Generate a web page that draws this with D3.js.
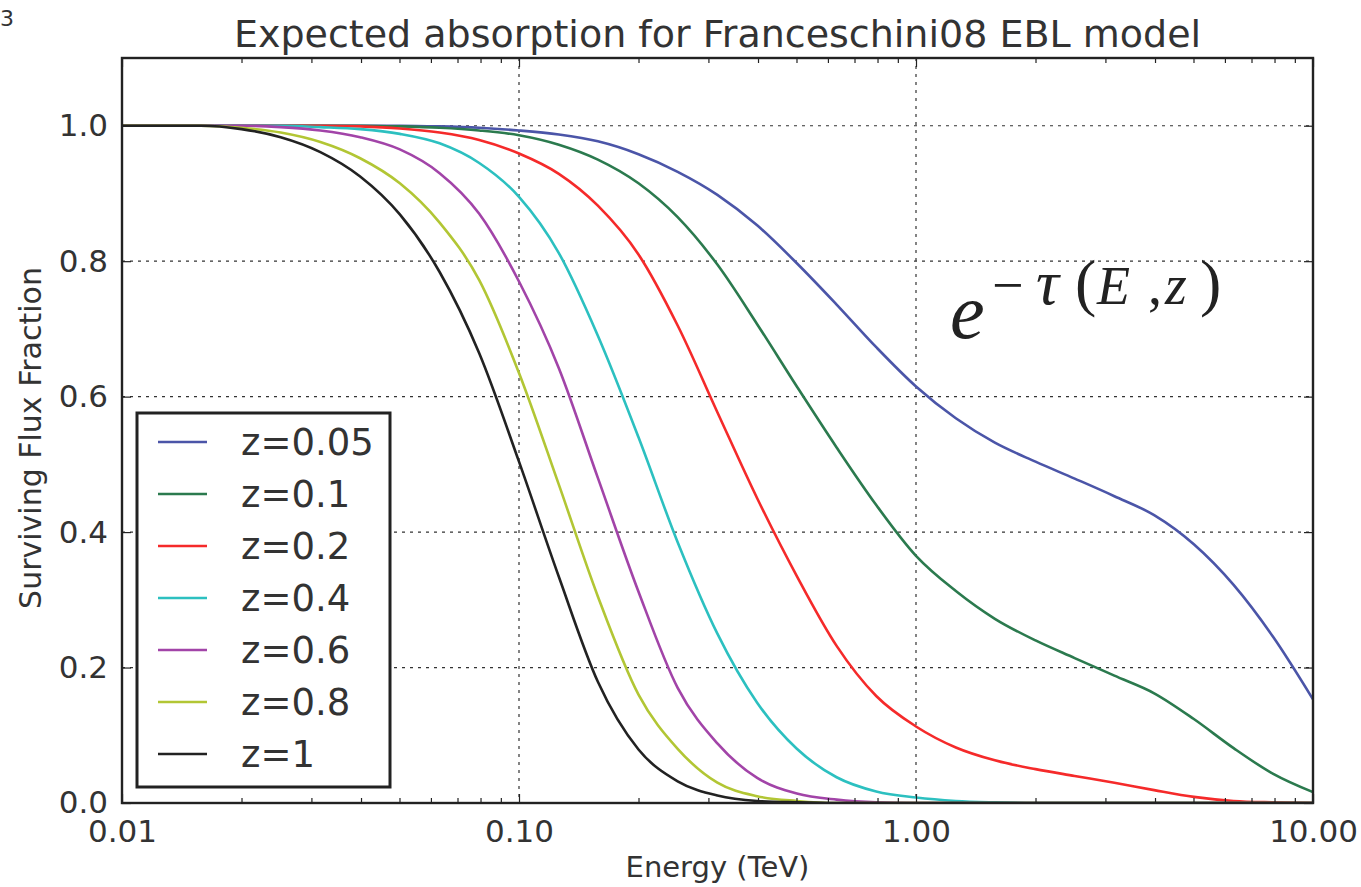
<!DOCTYPE html>
<html>
<head>
<meta charset="utf-8">
<script src="https://cdn.jsdelivr.net/npm/d3@7/dist/d3.min.js"></script>
<style>
  html, body { margin: 0; padding: 0; background: #ffffff; }
  svg { display: block; }
</style>
</head>
<body>
<svg id="chart" width="1361" height="887"></svg>
<script>
// ---- Data ----
const energies = [0.01, 0.0126, 0.0158, 0.02, 0.0251, 0.0316, 0.0398, 0.0501, 0.0631, 0.0794,
  0.1, 0.126, 0.158, 0.2, 0.251, 0.316, 0.398, 0.501, 0.631, 0.794,
  1, 1.26, 1.58, 2, 2.51, 3.16, 3.98, 5.01, 6.31, 7.94, 10];

const zLabels = ["z=0.05", "z=0.1", "z=0.2", "z=0.4", "z=0.6", "z=0.8", "z=1"];

const flux_z005 = [1, 1, 1, 1, 1, 1, 1, 1, 0.999, 0.997,
  0.993, 0.987, 0.977, 0.958, 0.932, 0.898, 0.853, 0.797, 0.736, 0.673,
  0.615, 0.568, 0.532, 0.504, 0.479, 0.453, 0.425, 0.382, 0.322, 0.245, 0.153];
const flux_z01 = [1, 1, 1, 1, 1, 1, 1, 0.999, 0.997, 0.993,
  0.986, 0.972, 0.95, 0.915, 0.865, 0.795, 0.707, 0.615, 0.525, 0.44,
  0.365, 0.313, 0.272, 0.24, 0.214, 0.188, 0.162, 0.124, 0.081, 0.043, 0.016];
const flux_z02 = [1, 1, 1, 1, 1, 1, 0.999, 0.996, 0.99, 0.979,
  0.959, 0.929, 0.882, 0.81, 0.705, 0.577, 0.45, 0.335, 0.232, 0.158,
  0.113, 0.082, 0.063, 0.05, 0.04, 0.03, 0.019, 0.009, 0.003, 0.001, 0];
const flux_z04 = [1, 1, 1, 1, 1, 0.998, 0.995, 0.988, 0.974, 0.945,
  0.895, 0.812, 0.69, 0.54, 0.385, 0.25, 0.148, 0.08, 0.038, 0.017,
  0.008, 0.003, 0.001, 0, 0, 0, 0, 0, 0, 0, 0];
const flux_z06 = [1, 1, 1, 1, 0.998, 0.993, 0.983, 0.965, 0.93, 0.87,
  0.77, 0.642, 0.48, 0.312, 0.17, 0.088, 0.037, 0.014, 0.005, 0.001,
  0, 0, 0, 0, 0, 0, 0, 0, 0, 0, 0];
const flux_z08 = [1, 1, 1, 0.997, 0.99, 0.976, 0.952, 0.915, 0.857, 0.772,
  0.635, 0.47, 0.305, 0.16, 0.08, 0.03, 0.01, 0.003, 0, 0,
  0, 0, 0, 0, 0, 0, 0, 0, 0, 0, 0];
const flux_z1 = [1, 1, 1, 0.995, 0.983, 0.961, 0.925, 0.869, 0.784, 0.664,
  0.504, 0.334, 0.179, 0.079, 0.032, 0.011, 0.003, 0.001, 0, 0,
  0, 0, 0, 0, 0, 0, 0, 0, 0, 0, 0];

const seriesValues = [flux_z005, flux_z01, flux_z02, flux_z04, flux_z06, flux_z08, flux_z1];
const seriesColors = ["#4b55a8", "#2b7a4e", "#f52a2a", "#2cc0c0", "#a244a8", "#b2c634", "#222222"];

const xTickValues = [0.01, 0.1, 1, 10];
const xTickLabels = ["0.01", "0.10", "1.00", "10.00"];
const yTickValues = [0.0, 0.2, 0.4, 0.6, 0.8, 1.0];

// ---- Layout ----
const svg = d3.select("#chart");
const L = 122, R = 1313, T = 58, B = 803;
const x = d3.scaleLog().domain([0.01, 10]).range([L, R]);
const y = d3.scaleLinear().domain([0, 1.1]).range([B, T]);
const font = "'DejaVu Sans', sans-serif";
const ink = "#333333";

// stray character at top-left edge of the source picture
svg.append("text").attr("x", 0).attr("y", 26).attr("font-family", font)
  .attr("font-size", 22).attr("fill", ink).text("3");

// Title
svg.append("text").attr("x", (L + R) / 2).attr("y", 47).attr("text-anchor", "middle")
  .attr("font-family", font).attr("font-size", 38).attr("fill", ink)
  .text("Expected absorption for Franceschini08 EBL model");

// Grid
const grid = svg.append("g").attr("stroke", "#333").attr("stroke-width", 1.2)
  .attr("stroke-dasharray", "3,5");
xTickValues.slice(1, -1).forEach(v => {
  grid.append("line").attr("x1", x(v)).attr("x2", x(v)).attr("y1", T).attr("y2", B);
});
yTickValues.slice(1).forEach(v => {
  grid.append("line").attr("x1", L).attr("x2", R).attr("y1", y(v)).attr("y2", y(v));
});

// Curves
const line = d3.line()
  .x((d, i) => x(energies[i]))
  .y(d => y(d))
  .curve(d3.curveMonotoneX);
const clip = svg.append("clipPath").attr("id", "plotclip");
clip.append("rect").attr("x", L).attr("y", T).attr("width", R - L).attr("height", B - T);
const curves = svg.append("g").attr("clip-path", "url(#plotclip)");
seriesValues.forEach((vals, k) => {
  curves.append("path").datum(vals).attr("d", line)
    .attr("fill", "none").attr("stroke", seriesColors[k]).attr("stroke-width", 2.6);
});

// Axes (ticks inside, matplotlib style)
const minorTicks = [];
[0.01, 0.1, 1].forEach(dec => { for (let m = 2; m <= 9; m++) minorTicks.push(dec * m); });

function styleTicks(g) {
  g.select(".domain").remove();
  g.selectAll("line").attr("stroke", "#222").attr("stroke-width", 1.2);
}

const bottomAxis = d3.axisBottom(x).tickValues(xTickValues)
  .tickFormat((d, i) => xTickLabels[i]).tickSizeInner(-9).tickSizeOuter(0).tickPadding(17);
const gx = svg.append("g").attr("transform", `translate(0,${B})`).call(bottomAxis);
styleTicks(gx);
gx.selectAll("text").attr("font-family", font).attr("font-size", 31).attr("fill", ink);

const bottomMinor = d3.axisBottom(x).tickValues(minorTicks).tickFormat("").tickSizeInner(-5).tickSizeOuter(0);
styleTicks(svg.append("g").attr("transform", `translate(0,${B})`).call(bottomMinor));

const topAxis = d3.axisTop(x).tickValues(xTickValues).tickFormat("").tickSizeInner(-9).tickSizeOuter(0);
styleTicks(svg.append("g").attr("transform", `translate(0,${T})`).call(topAxis));
const topMinor = d3.axisTop(x).tickValues(minorTicks).tickFormat("").tickSizeInner(-5).tickSizeOuter(0);
styleTicks(svg.append("g").attr("transform", `translate(0,${T})`).call(topMinor));

const leftAxis = d3.axisLeft(y).tickValues(yTickValues).tickFormat(d3.format(".1f"))
  .tickSizeInner(-9).tickSizeOuter(0).tickPadding(14);
const gy = svg.append("g").attr("transform", `translate(${L},0)`).call(leftAxis);
styleTicks(gy);
gy.selectAll("text").attr("font-family", font).attr("font-size", 31).attr("fill", ink);

const rightAxis = d3.axisRight(y).tickValues(yTickValues).tickFormat("").tickSizeInner(-9).tickSizeOuter(0);
styleTicks(svg.append("g").attr("transform", `translate(${R},0)`).call(rightAxis));

// Frame
svg.append("rect").attr("x", L).attr("y", T).attr("width", R - L).attr("height", B - T)
  .attr("fill", "none").attr("stroke", "#222").attr("stroke-width", 2.4);

// Axis labels
svg.append("text").attr("x", (L + R) / 2).attr("y", 877).attr("text-anchor", "middle")
  .attr("font-family", font).attr("font-size", 29).attr("fill", ink).text("Energy (TeV)");
svg.append("text").attr("transform", `translate(41,438) rotate(-90)`)
  .attr("text-anchor", "middle").attr("font-family", font).attr("font-size", 30)
  .attr("fill", ink).text("Surviving Flux Fraction");

// Math annotation e^{-τ(E,z)}
const mathFont = "'Liberation Serif', 'DejaVu Serif', serif";
const mg = svg.append("g").attr("font-family", mathFont).attr("fill", "#222");
mg.append("text").attr("x", 950).attr("y", 338).attr("font-size", 78)
  .attr("font-style", "italic").text("e");
const supParts = [
  { t: "\u2212", x: 992, it: false, s: 56 },
  { t: "\u03C4", x: 1036, it: true, s: 64 },
  { t: "(", x: 1075, it: false, s: 64 },
  { t: "E", x: 1097, it: true, s: 54 },
  { t: ",", x: 1148, it: false, s: 56 },
  { t: "z", x: 1165, it: true, s: 56 },
  { t: ")", x: 1200, it: false, s: 64 }
];
supParts.forEach(p => {
  mg.append("text").attr("x", p.x).attr("y", 304).attr("font-size", p.s)
    .attr("font-style", p.it ? "italic" : "normal").text(p.t);
});

// Legend
const lg = svg.append("g");
lg.append("rect").attr("x", 137).attr("y", 413).attr("width", 253).attr("height", 374)
  .attr("fill", "#ffffff").attr("stroke", "#222").attr("stroke-width", 3);
zLabels.forEach((lab, k) => {
  const yy = 442 + k * 52;
  lg.append("line").attr("x1", 158).attr("x2", 207).attr("y1", yy).attr("y2", yy)
    .attr("stroke", seriesColors[k]).attr("stroke-width", 2.6);
  lg.append("text").attr("x", 241).attr("y", yy + 13).attr("font-family", font)
    .attr("font-size", 37).attr("fill", ink).text(lab);
});
</script>
</body>
</html>
